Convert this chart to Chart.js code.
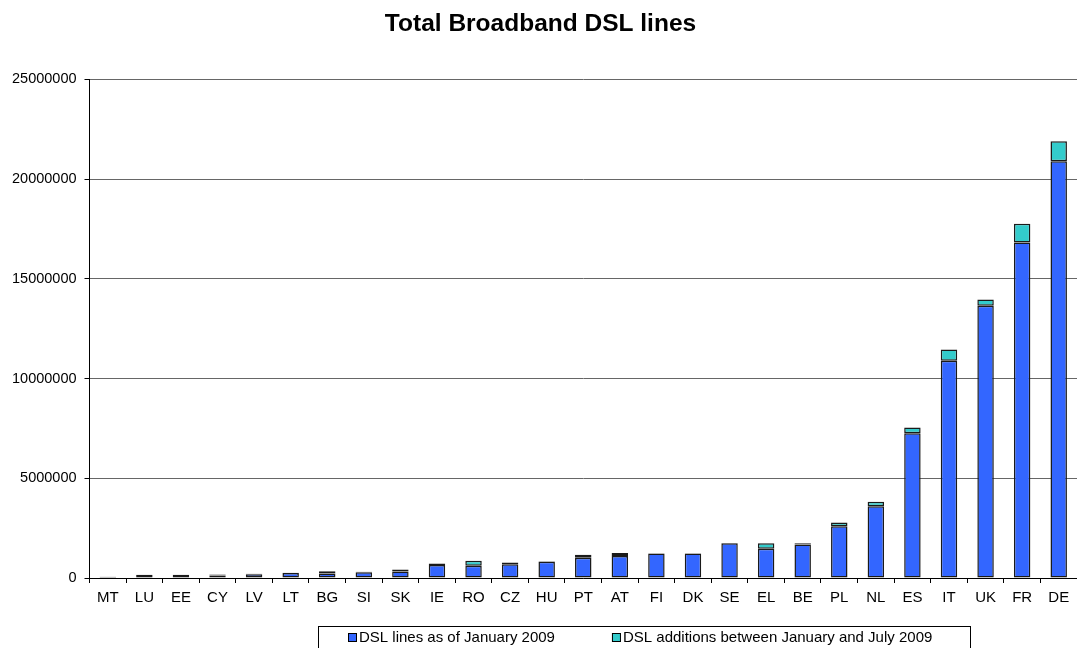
<!DOCTYPE html>
<html>
<head>
<meta charset="utf-8">
<script src="https://cdn.jsdelivr.net/npm/chart.js@4/dist/chart.umd.min.js"></script>
<style>
  html, body { margin: 0; padding: 0; background: #fff; }
  #wrap { width: 1077px; height: 648px; position: relative; }
</style>
</head>
<body>
<div id="wrap"><canvas id="c" width="1077" height="648"></canvas></div>
<script>
const categories = ["MT","LU","EE","CY","LV","LT","BG","SI","SK","IE","RO","CZ","HU","PT","AT","FI","DK","SE","EL","BE","PL","NL","ES","IT","UK","FR","DE"];
const linesJan2009 = [60000,150000,150000,120000,190000,250000,230000,290000,330000,650000,620000,690000,810000,1010000,1100000,1230000,1230000,1740000,1470000,1680000,2590000,3600000,7260000,10890000,13650000,16820000,20900000];
const additionsJanJul2009 = [5000,10000,10000,60000,20000,10000,110000,20000,90000,80000,250000,90000,30000,150000,150000,10000,10000,10000,270000,60000,190000,220000,290000,570000,310000,940000,1000000];
const seriesLabels = ["DSL lines as of January 2009", "DSL additions between January and July 2009"];
const yTicks = [0, 5000000, 10000000, 15000000, 20000000, 25000000];
const chartTitle = "Total Broadband DSL lines";

const FONT = "'Liberation Sans', Arial, sans-serif";
const BLUE = "#3366FF";
const CYAN = "#33CCCC";

const boxedLegend = {
  id: 'boxedLegend',
  afterDraw(chart) {
    const ctx = chart.ctx;
    ctx.save();
    ctx.font = "15px " + FONT;
    const colors = [BLUE, CYAN];
    const sq = 9, gap = 2, spacing = 57;
    const w1 = ctx.measureText(seriesLabels[0]).width;
    const w2 = ctx.measureText(seriesLabels[1]).width;
    const total = sq + gap + w1 + spacing + sq + gap + w2;
    const boxL = 318, boxR = 970, boxT = 626;
    const cx = (boxL + boxR) / 2 - 4;
    let x = Math.round(cx - total / 2);
    const ty = 637;
    ctx.strokeStyle = "#000";
    ctx.lineWidth = 1;
    ctx.strokeRect(boxL + 0.5, boxT + 0.5, boxR - boxL, 40);
    ctx.textBaseline = "middle";
    [w1, w2].forEach((w, i) => {
      ctx.fillStyle = colors[i];
      ctx.fillRect(x, ty - 4, sq, sq);
      ctx.strokeStyle = "#000";
      ctx.strokeRect(x + 0.5, ty - 4 + 0.5, sq - 1, sq - 1);
      ctx.fillStyle = "#000";
      ctx.fillText(seriesLabels[i], x + sq + gap, ty + 1);
      x += sq + gap + w + spacing;
    });
    ctx.restore();
  }
};

new Chart(document.getElementById('c'), {
  type: 'bar',
  data: {
    labels: categories,
    datasets: [
      { label: seriesLabels[0], data: linesJan2009, backgroundColor: BLUE, borderColor: "#1a1a1a", borderWidth: 1.5, borderSkipped: false, barPercentage: 0.45, categoryPercentage: 1.0 },
      { label: seriesLabels[1], data: additionsJanJul2009, backgroundColor: CYAN, borderColor: "#1a1a1a", borderWidth: 1.5, borderSkipped: false, barPercentage: 0.45, categoryPercentage: 1.0 }
    ]
  },
  options: {
    responsive: false,
    animation: false,
    devicePixelRatio: 1,
    layout: { padding: { left: 4, right: 0, top: 0, bottom: 35 } },
    plugins: {
      legend: { display: false },
      tooltip: { enabled: false },
      title: {
        display: true, text: chartTitle, color: "#000",
        font: { family: FONT, size: 24.5, weight: 'bold' },
        padding: { top: 10, bottom: 40 }
      }
    },
    scales: {
      x: {
        stacked: true,
        offset: true,
        grid: { display: true, offset: true, drawOnChartArea: false, drawTicks: true, tickLength: 5, color: "#000" },
        border: { display: true, color: "#000", width: 1 },
        ticks: { color: "#000", font: { family: FONT, size: 15 }, padding: 6, maxRotation: 0, autoSkip: false }
      },
      y: {
        stacked: true,
        min: 0, max: 25000000,
        afterBuildTicks(axis) { axis.ticks = yTicks.map(v => ({ value: v })); },
        grid: { color: "#666", lineWidth: 1, tickLength: 5, drawTicks: true, tickColor: "#000" },
        border: { display: true, color: "#000", width: 1 },
        ticks: { color: "#000", font: { family: FONT, size: 14.5 }, padding: 8, callback: v => String(v) }
      }
    }
  },
  plugins: [boxedLegend]
});
</script>
</body>
</html>
